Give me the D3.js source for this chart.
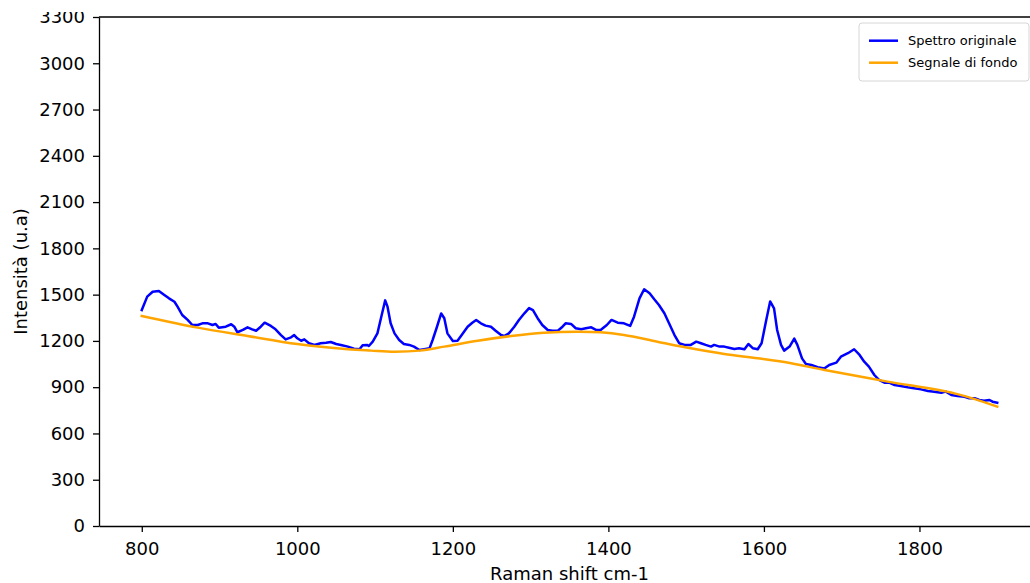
<!DOCTYPE html>
<html>
<head>
<meta charset="utf-8">
<script src="https://cdn.jsdelivr.net/npm/d3@7"></script>
<style>
    html, body { margin: 0; padding: 0; background: #fff; }
    #chart { width: 1030px; height: 583px; overflow: hidden; }
    text { font-family: "DejaVu Sans", sans-serif; fill: #000; }
</style>
</head>
<body>
<div id="chart"></div>
<script>
// Original spectrum (Raman shift, intensity)
const spectrumShift = [800, 807, 814, 822, 829, 835, 842, 846, 852, 859, 865, 872, 878, 885, 891, 895, 899, 908, 915, 919,
    923, 930, 936, 942, 947, 953, 958, 966, 972, 979, 985, 992, 996, 1000, 1005, 1009, 1015, 1022, 1030, 1037,
    1043, 1050, 1056, 1065, 1073, 1080, 1084, 1090, 1092, 1097, 1103, 1108, 1113, 1116, 1120, 1125, 1131, 1137, 1144, 1150,
    1157, 1163, 1170, 1174, 1179, 1185, 1189, 1193, 1200, 1206, 1213, 1219, 1225, 1230, 1236, 1242, 1249, 1255, 1262, 1266,
    1272, 1279, 1285, 1292, 1298, 1303, 1309, 1315, 1322, 1328, 1335, 1341, 1345, 1352, 1358, 1365, 1371, 1378, 1384, 1390,
    1398, 1404, 1412, 1420, 1428, 1433, 1440, 1446, 1453, 1459, 1465, 1472, 1478, 1485, 1491, 1498, 1506, 1513, 1519, 1525,
    1532, 1536, 1543, 1549, 1555, 1562, 1568, 1575, 1580, 1586, 1592, 1597, 1603, 1608, 1613, 1617, 1622, 1626, 1633, 1639,
    1643, 1649, 1654, 1661, 1669, 1678, 1684, 1693, 1699, 1708, 1716, 1723, 1729, 1735, 1742, 1748, 1755, 1761, 1768, 1776,
    1785, 1793, 1802, 1811, 1819, 1828, 1834, 1841, 1849, 1858, 1864, 1871, 1877, 1883, 1890, 1894, 1900];
const spectrumIntensity = [1400, 1487, 1519, 1524, 1498, 1476, 1454, 1422, 1368, 1336, 1303, 1303, 1314, 1314, 1303, 1310, 1286, 1292, 1308, 1292,
    1256, 1271, 1288, 1275, 1266, 1292, 1318, 1297, 1275, 1238, 1210, 1223, 1238, 1217, 1201, 1210, 1185, 1174, 1185, 1188,
    1193, 1180, 1174, 1163, 1150, 1146, 1172, 1174, 1167, 1195, 1249, 1357, 1463, 1422, 1314, 1249, 1206, 1180, 1174, 1163,
    1141, 1146, 1152, 1206, 1282, 1378, 1347, 1249, 1199, 1201, 1249, 1292, 1318, 1336, 1314, 1299, 1292, 1266, 1238, 1232,
    1249, 1292, 1336, 1379, 1413, 1400, 1347, 1303, 1271, 1266, 1266, 1292, 1314, 1310, 1282, 1275, 1282, 1288, 1271, 1271,
    1303, 1336, 1318, 1314, 1297, 1357, 1476, 1535, 1509, 1470, 1433, 1379, 1314, 1238, 1185, 1174, 1174, 1195, 1185, 1174,
    1163, 1174, 1163, 1163, 1156, 1148, 1152, 1146, 1180, 1152, 1146, 1185, 1336, 1456, 1411, 1271, 1174, 1137, 1163, 1215,
    1174, 1087, 1050, 1044, 1029, 1022, 1044, 1059, 1098, 1120, 1146, 1109, 1065, 1033, 979, 947, 929, 929, 914, 908,
    899, 893, 886, 875, 871, 864, 871, 849, 843, 838, 828, 828, 817, 812, 817, 806, 799];

// Background signal
const baselineShift = [800, 872, 936, 1000, 1065, 1095, 1125, 1157, 1189, 1232, 1275, 1317, 1360, 1390, 1420, 1463,
    1506, 1549, 1592, 1635, 1678, 1759, 1845, 1900];
const baselineIntensity = [1362, 1286, 1232, 1180, 1146, 1137, 1130, 1137, 1163, 1201, 1232, 1253, 1260, 1256, 1238, 1195,
    1152, 1115, 1087, 1055, 1011, 936, 860, 774];

// Axis ticks and labels
const xTicks = [800, 1000, 1200, 1400, 1600, 1800];
const yTicks = [0, 300, 600, 900, 1200, 1500, 1800, 2100, 2400, 2700, 3000, 3300];
const seriesNames = ['Spettro originale', 'Segnale di fondo'];
const seriesColors = ['#0000ff', '#ffa500'];

// Render chart
function renderChart() {
    const width = 1030;
    const height = 583;
    const plot = {left: 99, right: 1040, top: 17, bottom: 526};

    const svg = d3.select('#chart')
        .append('svg')
        .attr('width', width)
        .attr('height', height);

    // the reference image is cropped just above the top tick label
    svg.append('defs').append('clipPath')
        .attr('id', 'crop-top')
        .append('rect')
        .attr('x', -200).attr('y', 12)
        .attr('width', 400).attr('height', height);

    const x = d3.scaleLinear()
        .domain([745, 1955])
        .range([plot.left, plot.right]);

    const y = d3.scaleLinear()
        .domain([0, 3300])
        .range([plot.bottom, plot.top]);

    const spectrum = spectrumShift.map((s, i) => [s, spectrumIntensity[i]]);
    const baseline = baselineShift.map((s, i) => [s, baselineIntensity[i]]);

    const line = d3.line()
        .x(d => x(d[0]))
        .y(d => y(d[1]));

    svg.append('path')
        .datum(spectrum)
        .attr('d', line)
        .attr('fill', 'none')
        .attr('stroke', seriesColors[0])
        .attr('stroke-width', 2.5)
        .attr('stroke-linejoin', 'round')
        .attr('stroke-linecap', 'square');

    svg.append('path')
        .datum(baseline)
        .attr('d', line.curve(d3.curveCatmullRom))
        .attr('fill', 'none')
        .attr('stroke', seriesColors[1])
        .attr('stroke-width', 2.5)
        .attr('stroke-linecap', 'square');

    // X axis
    const xAxis = svg.append('g')
        .attr('transform', `translate(0,${plot.bottom})`)
        .call(d3.axisBottom(x).tickValues(xTicks).tickFormat(d3.format('d'))
            .tickSize(6).tickPadding(10).tickSizeOuter(0));
    xAxis.selectAll('text').style('font-size', '18px');

    // Y axis
    const yAxis = svg.append('g')
        .attr('transform', `translate(${plot.left},0)`)
        .attr('clip-path', 'url(#crop-top)')
        .call(d3.axisLeft(y).tickValues(yTicks).tickFormat(d3.format('d'))
            .tickSize(6).tickPadding(8).tickSizeOuter(0));
    yAxis.selectAll('text').style('font-size', '18px');

    svg.selectAll('.domain').attr('stroke-width', 1.3);
    svg.selectAll('.tick line').attr('stroke-width', 1.3);

    // Top spine
    svg.append('line')
        .attr('x1', plot.left).attr('x2', plot.right)
        .attr('y1', plot.top).attr('y2', plot.top)
        .attr('stroke', '#000').attr('stroke-width', 1.3);

    // Axis labels
    svg.append('text')
        .attr('x', (plot.left + plot.right) / 2)
        .attr('y', 580)
        .attr('text-anchor', 'middle')
        .style('font-size', '18px')
        .text('Raman shift cm-1');

    svg.append('text')
        .attr('transform', `translate(27,${(plot.top + plot.bottom) / 2}) rotate(-90)`)
        .attr('text-anchor', 'middle')
        .style('font-size', '18px')
        .text('Intensità (u.a)');

    // Legend
    const legend = svg.append('g');
    legend.append('rect')
        .attr('x', 859).attr('y', 23)
        .attr('width', 170).attr('height', 58)
        .attr('rx', 3)
        .attr('fill', '#fff').attr('fill-opacity', 0.8)
        .attr('stroke', '#d6d6d6');

    seriesNames.forEach((name, i) => {
        const ly = 40.7 + i * 22;
        legend.append('line')
            .attr('x1', 869).attr('x2', 898)
            .attr('y1', ly).attr('y2', ly)
            .attr('stroke', seriesColors[i])
            .attr('stroke-width', 2.5);
        legend.append('text')
            .attr('x', 908).attr('y', ly)
            .attr('dy', '0.35em')
            .style('font-size', '13px')
            .text(name);
    });
}

window.addEventListener('DOMContentLoaded', renderChart);
</script>
</body>
</html>
